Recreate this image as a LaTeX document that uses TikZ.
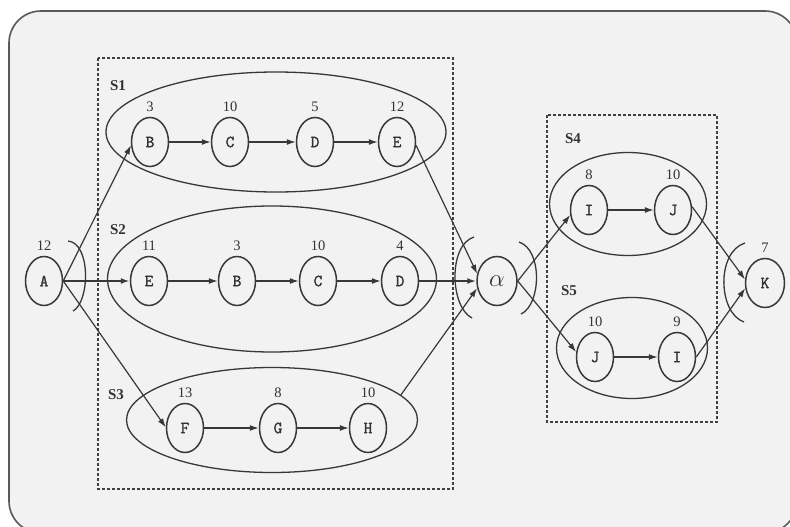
\documentclass[tikz,border=0pt]{standalone}
\usepackage{fontspec}
\setmainfont{Liberation Serif}
\newfontfamily\letterfont[FakeBold=1.6]{Latin Modern Mono}
\usetikzlibrary{arrows.meta,shapes.geometric}

\begin{document}
\begin{tikzpicture}[x=1pt,y=-1pt,
  vtx/.style={ellipse, draw=black!78, line width=1.5pt, minimum width=37pt,
    minimum height=49pt, inner sep=0pt,
    font=\letterfont\fontsize{17}{17}\selectfont, text=black!80},
  weight/.style={font=\fontsize{14.5}{14.5}\selectfont, text=black!80, inner sep=1pt},
  grp/.style={ellipse, draw=black!78, line width=1.3pt, inner sep=0pt},
  setlbl/.style={font=\bfseries\fontsize{15}{15}\selectfont, text=black!80, inner sep=0pt},
  dashbox/.style={draw=black!75, line width=1.3pt, dash pattern=on 3pt off 2pt},
  conn/.style={draw=black!78, line width=1.2pt, -{Latex[length=9pt,width=6pt]}},
  heavy/.style={conn, line width=2.1pt},
  joinarc/.style={draw=black!78, line width=1.3pt},
  every label/.style={weight},
  label distance=4pt,
]
\useasboundingbox (0,0) rectangle (790,527);
\fill[white] (0,0) rectangle (790,527);
% outer panel
\draw[draw=black!65, line width=1.6pt, fill=black!5, rounded corners=32pt]
  (9,11) rectangle (797,533);

% dashed containers
\draw[dashbox] (98,58) rectangle (453,489);
\draw[dashbox] (547,115) rectangle (717,422);

% group ellipses
\node[grp, minimum width=340pt, minimum height=120pt] (S1) at (276,132) {};
\node[grp, minimum width=329pt, minimum height=146pt] (S2) at (272,279) {};
\node[grp, minimum width=291pt, minimum height=105pt] (S3) at (272,420) {};
\node[grp, minimum width=157pt, minimum height=103pt] (S4) at (628,204) {};
\node[grp, minimum width=151pt, minimum height=101pt] (S5) at (632,348) {};

% group names
\node[setlbl] (L1) at (118,86) {S1};
\node[setlbl] (L2) at (118,230) {S2};
\node[setlbl] (L3) at (116,395) {S3};
\node[setlbl] (L4) at (573,139) {S4};
\node[setlbl] (L5) at (569,291) {S5};

% vertices
\node[vtx, label=above:12] (A) at (44,281) {A};
\node[vtx, label=above:3]  (B1) at (150,142) {B};
\node[vtx, label=above:10] (C1) at (230,142) {C};
\node[vtx, label=above:5]  (D1) at (315,142) {D};
\node[vtx, label=above:12] (E1) at (397,142) {E};
\node[vtx, label=above:11] (E2) at (149,281) {E};
\node[vtx, label=above:3]  (B2) at (237,281) {B};
\node[vtx, label=above:10] (C2) at (318,281) {C};
\node[vtx, label=above:4]  (D2) at (400,281) {D};
\node[vtx, label=above:13] (F3) at (185,428) {F};
\node[vtx, label=above:8]  (G3) at (278,428) {G};
\node[vtx, label=above:10] (H3) at (368,428) {H};
\node[vtx, minimum width=40pt, font=\fontsize{27}{27}\selectfont] (al) at (497,281) {$\alpha$};
\node[vtx, label=above:8]  (I4) at (589,210) {I};
\node[vtx, label=above:10] (J4) at (673,210) {J};
\node[vtx, label=above:10] (J5) at (595,357) {J};
\node[vtx, label=above:9]  (I5) at (677,357) {I};
\node[vtx, minimum width=39pt, label=above:7] (K) at (765,283) {K};

% chains inside the groups
\draw[conn] (B1) -- (C1);
\draw[conn] (C1) -- (D1);
\draw[conn] (D1) -- (E1);
\draw[conn] (E2) -- (B2);
\draw[conn] (B2) -- (C2);
\draw[conn] (C2) -- (D2);
\draw[conn] (F3) -- (G3);
\draw[conn] (G3) -- (H3);
\draw[conn] (I4) -- (J4);
\draw[conn] (J5) -- (I5);

% fan-out from A
\draw[conn]  (A.east) -- (B1.190);
\draw[heavy] (A.east) -- (E2.west);
\draw[conn]  (A.east) -- (F3.178);

% merge into alpha
\draw[conn]  (E1.-10) -- (al.160);
\draw[heavy] (D2) -- (al);
\draw[conn]  (S3.11) -- (al.200);

% fan-out from alpha
\draw[conn] (al.east) -- (I4.195);
\draw[conn] (al.east) -- (J5.165);

% merge into K
\draw[conn] (J4.10) -- (K.170);
\draw[conn] (I5.east) -- (K.195);

% join brackets
\draw[joinarc] (68,241) .. controls (91,243) and (90,302) .. (73,311);
\draw[joinarc] (474,237) .. controls (448,245) and (450,307) .. (472,318);
\draw[joinarc] (519,242) .. controls (543,250) and (541,305) .. (521,314);
\draw[joinarc] (745,243) .. controls (716,252) and (718,313) .. (744,322);
\end{tikzpicture}
\end{document}
